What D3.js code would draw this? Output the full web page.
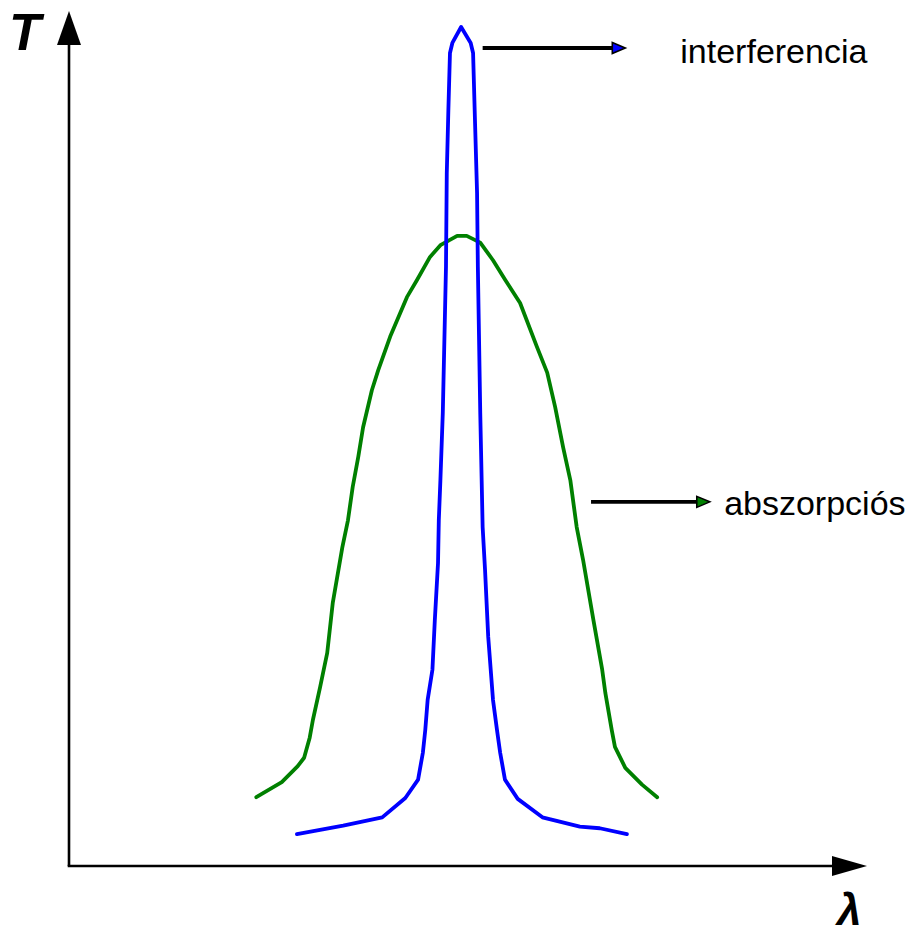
<!DOCTYPE html>
<html>
<head>
<meta charset="utf-8">
<script src="https://cdn.jsdelivr.net/npm/d3@7"></script>
<style>
  html, body { margin: 0; padding: 0; background: #fff; }
  svg { display: block; }
</style>
</head>
<body>
<svg id="chart" width="914" height="933"></svg>
<script>
// Transmission curves of an interference filter and an absorption filter
// (arbitrary units: wavelength 0–100 along the axis, transmittance 0–100).
const interfLambda = [28.6, 31.5, 34.4, 39.3, 42.2, 43.8, 44.4, 44.7, 45.0, 45.6, 45.9, 46.3, 46.4, 46.6, 46.9, 47.3, 47.4, 47.6, 47.8, 48.1, 49.2, 50.4, 50.7, 50.9, 51.2, 51.3, 51.6, 51.9, 52.2, 52.6, 53.2, 53.7, 54.1, 54.7, 56.3, 59.4, 64.1, 66.6, 70.0];
const interfT      = [3.8, 4.3, 4.8, 5.8, 8.1, 10.3, 13.5, 16.2, 19.8, 23.4, 29.3, 36.1, 41.2, 46.0, 54.0, 71.4, 82.6, 90.1, 96.9, 98.1, 100.0, 98.1, 96.9, 90.1, 80.2, 71.4, 54.0, 40.4, 35.3, 27.3, 19.8, 16.2, 13.5, 10.3, 8.0, 5.8, 4.7, 4.5, 3.8];

const absLambda = [23.5, 26.7, 28.7, 29.5, 30.2, 30.6, 31.5, 32.4, 33.1, 34.3, 35.0, 35.6, 36.3, 36.9, 38.0, 38.8, 40.3, 42.4, 43.7, 45.3, 46.6, 48.7, 49.9, 51.6, 53.2, 54.7, 56.6, 58.7, 60.0, 61.0, 62.0, 62.9, 63.7, 64.5, 65.8, 66.9, 67.3, 68.1, 68.5, 69.8, 71.9, 73.8];
const absT      = [8.2, 10.0, 11.9, 12.9, 15.3, 17.4, 21.3, 25.4, 31.4, 38.0, 41.2, 45.2, 48.8, 52.3, 56.7, 59.1, 63.1, 67.8, 69.9, 72.6, 74.0, 75.1, 75.1, 74.3, 72.2, 69.9, 67.1, 61.9, 58.8, 54.7, 49.9, 46.0, 40.4, 36.5, 29.3, 23.4, 20.6, 16.2, 14.2, 11.7, 9.7, 8.2];

// Label annotations: [arrow start λ, arrow end λ, arrow T, text λ, text T]
const labelNames = ["interferencia", "abszorpciós"];
const labelArrowFrom = [51.9, 65.5];
const labelArrowTo   = [69.8, 80.4];
const labelArrowT    = [97.5, 43.4];
const labelTextX     = [76.7, 82.2];
const labelTextT     = [95.7, 41.8];

const axisTitles = ["T", "λ"];

const svg = d3.select("#chart");
const x = d3.scaleLinear().domain([0, 100]).range([69, 866]);
const y = d3.scaleLinear().domain([0, 100]).range([866, 27]);

const ink = "#000";
const blue = "#0000ff";
const green = "#008000";
const font = "Liberation Sans, Arial, Helvetica, sans-serif";

// Axes with arrowheads
const x0 = x(0), y0 = y(0);
svg.append("line")
  .attr("x1", x0).attr("y1", y0).attr("x2", x0).attr("y2", 44)
  .attr("stroke", ink).attr("stroke-width", 2.6);
svg.append("path")
  .attr("d", `M${x0 - 12},45 L${x0},11 L${x0 + 12},45 Z`)
  .attr("fill", ink);
svg.append("line")
  .attr("x1", x0 - 1.3).attr("y1", y0).attr("x2", 833).attr("y2", y0)
  .attr("stroke", ink).attr("stroke-width", 2.6);
svg.append("path")
  .attr("d", `M832,${y0 - 10} L867,${y0} L832,${y0 + 10} Z`)
  .attr("fill", ink);

// Axis titles
svg.append("text")
  .attr("x", 9).attr("y", 50)
  .attr("font-family", font).attr("font-weight", "bold").attr("font-style", "italic")
  .attr("font-size", 52).attr("fill", ink)
  .text(axisTitles[0]);
svg.append("text")
  .attr("x", 837).attr("y", 925)
  .attr("font-family", font).attr("font-weight", "bold").attr("font-style", "italic")
  .attr("font-size", 44).attr("fill", ink)
  .text(axisTitles[1]);

// Curves
const line = d3.line().x(d => x(d[0])).y(d => y(d[1])).curve(d3.curveLinear);
const absData = absLambda.map((l, i) => [l, absT[i]]);
const interfData = interfLambda.map((l, i) => [l, interfT[i]]);

svg.append("path")
  .attr("d", line(absData))
  .attr("fill", "none").attr("stroke", green).attr("stroke-width", 3.8)
  .attr("stroke-linejoin", "round").attr("stroke-linecap", "round");
svg.append("path")
  .attr("d", line(interfData))
  .attr("fill", "none").attr("stroke", blue).attr("stroke-width", 3.8)
  .attr("stroke-linejoin", "round").attr("stroke-linecap", "round");

// Labels with pointer arrows
const headFill = [blue, green];
labelNames.forEach((name, i) => {
  const ax1 = x(labelArrowFrom[i]);
  const ax2 = x(labelArrowTo[i]);
  const ay = y(labelArrowT[i]);
  svg.append("line")
    .attr("x1", ax1).attr("y1", ay).attr("x2", ax2 - 12).attr("y2", ay)
    .attr("stroke", ink).attr("stroke-width", 3.8);
  svg.append("path")
    .attr("d", `M${ax2 - 13},${ay - 5.5} L${ax2},${ay} L${ax2 - 13},${ay + 5.5} Z`)
    .attr("fill", headFill[i]).attr("stroke", ink).attr("stroke-width", 1.6)
    .attr("stroke-linejoin", "miter");
  svg.append("text")
    .attr("x", x(labelTextX[i])).attr("y", y(labelTextT[i]))
    .attr("font-family", font).attr("font-size", 34).attr("fill", ink)
    .text(name);
});
</script>
</body>
</html>
